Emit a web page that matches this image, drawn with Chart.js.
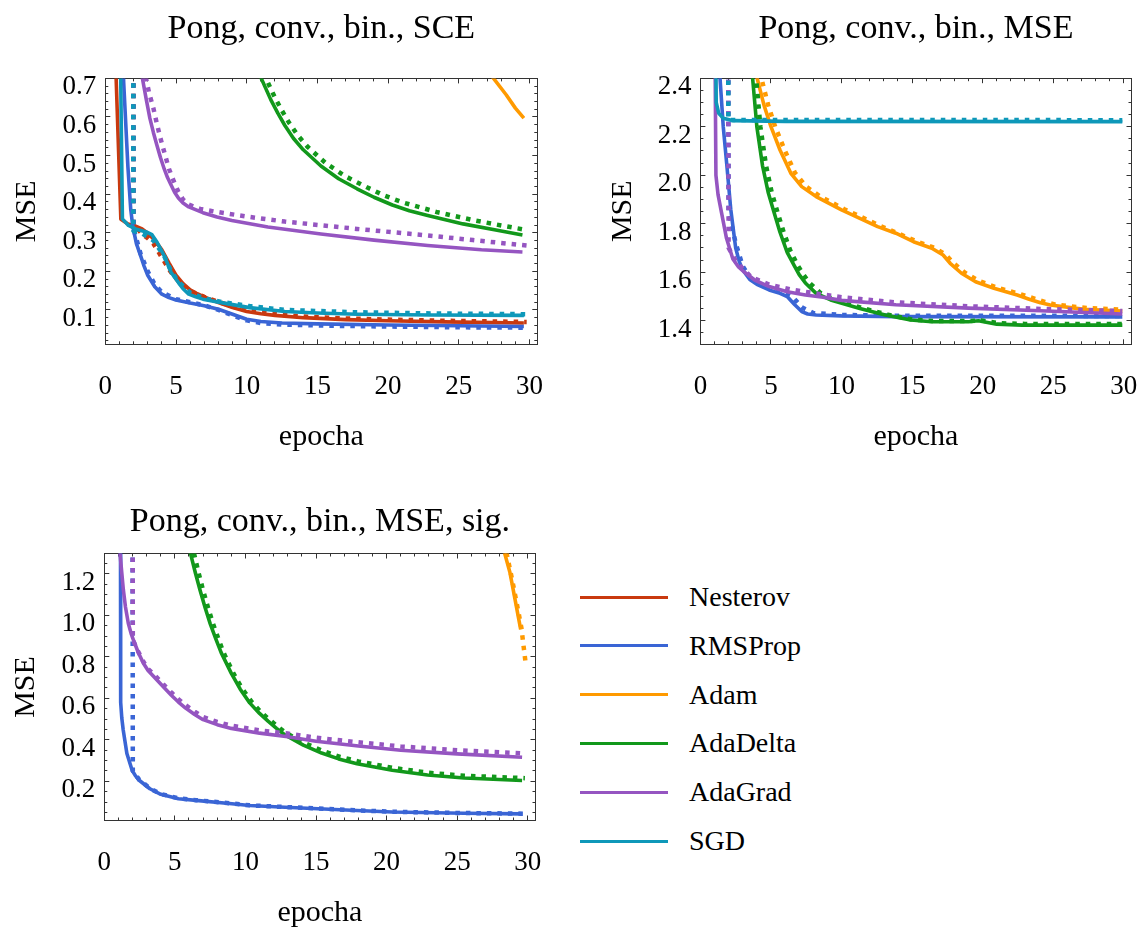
<!DOCTYPE html>
<html>
<head>
<meta charset="utf-8">
<script src="https://cdn.jsdelivr.net/npm/chart.js@4.4.1/dist/chart.umd.min.js"></script>
<style>
  html, body { margin: 0; padding: 0; background: #fff; }
  body { position: relative; width: 1138px; height: 928px; overflow: hidden; font-family: 'Liberation Serif', serif; }
  canvas { position: absolute; }
  .row { position: absolute; left: 580px; height: 40px; display: flex; align-items: center; font-size: 28px; color: #000; white-space: nowrap; }
  .swatch { display: inline-block; width: 88px; height: 3px; margin-right: 21px; }
</style>
</head>
<body>
<canvas id="sce" width="560" height="452" style="left:0;top:0"></canvas>
<canvas id="mse" width="558" height="452" style="left:580px;top:0"></canvas>
<canvas id="sig" width="560" height="458" style="left:0;top:470px"></canvas>
<div id="legend"></div>
<script>
const optimizers = ['Nesterov', 'RMSProp', 'Adam', 'AdaDelta', 'AdaGrad', 'SGD'];
const colors = ['#c9390f', '#3a65d5', '#ff9a00', '#12981b', '#9555c1', '#0e98b9'];

const epochTicks = [0, 5, 10, 15, 20, 25, 30];
const sceTicks = [0.1, 0.2, 0.3, 0.4, 0.5, 0.6, 0.7];
const mseTicks = [1.4, 1.6, 1.8, 2.0, 2.2, 2.4];
const sigTicks = [0.2, 0.4, 0.6, 0.8, 1.0, 1.2];

// [epoka, MSE] - plna cara a teckovana cara pro kazdy optimalizator

// Pong, conv., bin., SCE
const sceNesterov = [[0, 1.54], [1.1, 0.335], [1.6, 0.323], [2.1, 0.318], [2.6, 0.31], [3.0, 0.299], [3.5, 0.281], [4.0, 0.256], [4.5, 0.222], [5.0, 0.19], [5.5, 0.168], [6.0, 0.152], [6.5, 0.142], [7.0, 0.134], [8.0, 0.119], [9.0, 0.106], [10.0, 0.096], [11.0, 0.09], [12.0, 0.086], [14.0, 0.08], [17.0, 0.075], [20.0, 0.072], [24.0, 0.069], [29.6, 0.066]];
const sceNesterovDot = [[1.95, 3.0], [2.0, 0.322], [2.6, 0.297], [3.0, 0.286], [3.4, 0.272], [4.0, 0.236], [4.6, 0.2], [5.2, 0.173], [6.0, 0.149], [7.0, 0.134], [8.0, 0.121], [9.0, 0.109], [10.0, 0.1], [12.0, 0.089], [14.0, 0.083], [17.0, 0.078], [20.0, 0.075], [24.0, 0.072], [29.8, 0.069]];
const sceRmsprop = [[1.0, 1.0], [1.3, 0.69], [1.6, 0.47], [1.8, 0.36], [1.95, 0.315], [2.2, 0.272], [2.5, 0.24], [2.75, 0.213], [3.0, 0.19], [3.5, 0.16], [4.0, 0.141], [4.5, 0.132], [5.0, 0.126], [6.0, 0.118], [7.0, 0.111], [8.0, 0.102], [9.0, 0.089], [10.0, 0.076], [11.0, 0.07], [12.5, 0.066], [15.0, 0.064], [20.0, 0.061], [25.0, 0.059], [29.6, 0.057]];
const sceRmspropDot = [[1.95, 3.0], [2.0, 0.31], [2.5, 0.245], [3.0, 0.2], [3.5, 0.166], [4.0, 0.146], [5.0, 0.128], [6.0, 0.12], [7.0, 0.112], [8.0, 0.1], [9.0, 0.086], [10.0, 0.073], [11.0, 0.066], [12.5, 0.062], [16.0, 0.059], [20.0, 0.057], [25.0, 0.055], [29.8, 0.054]];
const sceAdam = [[26.0, 0.77], [27.35, 0.705], [28.36, 0.657], [29.0, 0.623], [29.6, 0.597]];
const sceAdaDelta = [[9.0, 0.95], [10.0, 0.795], [10.97, 0.705], [11.7, 0.645], [12.2, 0.61], [12.7, 0.578], [13.3, 0.545], [14.0, 0.515], [15.25, 0.473], [16.5, 0.44], [17.8, 0.414], [19.0, 0.392], [20.3, 0.372], [21.5, 0.357], [22.8, 0.345], [25.3, 0.323], [27.9, 0.305], [29.5, 0.294]];
const sceAdaDeltaDot = [[9.5, 0.95], [10.5, 0.8], [11.3, 0.705], [12.0, 0.65], [12.5, 0.616], [13.0, 0.585], [13.6, 0.553], [14.3, 0.523], [15.6, 0.48], [17.0, 0.446], [18.5, 0.418], [19.7, 0.397], [21.0, 0.379], [23.5, 0.353], [26.0, 0.333], [28.0, 0.319], [29.8, 0.307]];
const sceAdaGrad = [[2.0, 0.9], [2.6, 0.705], [2.9, 0.645], [3.15, 0.597], [3.4, 0.56], [3.65, 0.527], [3.9, 0.495], [4.16, 0.466], [4.4, 0.443], [4.66, 0.423], [4.9, 0.405], [5.17, 0.39], [5.5, 0.377], [5.9, 0.367], [6.9, 0.352], [7.9, 0.341], [8.95, 0.332], [11.5, 0.315], [15.25, 0.297], [19.0, 0.281], [22.8, 0.267], [26.6, 0.256], [29.5, 0.25]];
const sceAdaGradDot = [[2.2, 0.92], [2.85, 0.705], [3.1, 0.662], [3.4, 0.623], [3.65, 0.582], [3.9, 0.545], [4.2, 0.505], [4.5, 0.466], [4.85, 0.433], [5.17, 0.406], [5.5, 0.386], [5.9, 0.373], [6.7, 0.362], [7.7, 0.355], [10.2, 0.341], [12.7, 0.329], [17.8, 0.31], [22.8, 0.293], [26.0, 0.281], [29.8, 0.267]];
const sceSgd = [[0, 4.0], [1.21, 0.336], [1.64, 0.319], [2.14, 0.31], [2.9, 0.302], [3.3, 0.295], [3.65, 0.276], [4.16, 0.241], [4.66, 0.197], [5.17, 0.171], [5.5, 0.155], [5.9, 0.141], [6.4, 0.134], [6.9, 0.128], [8.2, 0.119], [10.2, 0.106], [12.7, 0.096], [15.0, 0.092], [17.8, 0.089], [23.0, 0.087], [29.6, 0.086]];
const sceSgdDot = [[1.96, 3.0], [1.98, 0.305], [2.65, 0.297], [3.4, 0.28], [4.16, 0.24], [4.66, 0.2], [5.2, 0.172], [6.0, 0.145], [7.0, 0.13], [8.2, 0.121], [10.2, 0.11], [12.7, 0.1], [17.8, 0.094], [23.0, 0.091], [29.8, 0.089]];

// Pong, conv., bin., MSE
const mseRmsprop = [[1.2, 2.62], [1.39, 2.4], [1.62, 2.2], [1.86, 2.05], [2.15, 1.86], [2.5, 1.7], [2.75, 1.645], [3.0, 1.61], [3.5, 1.57], [4.0, 1.55], [4.87, 1.527], [5.64, 1.513], [6.15, 1.5], [6.67, 1.467], [7.18, 1.438], [7.6, 1.428], [8.2, 1.424], [10.0, 1.42], [14.0, 1.417], [29.9, 1.416]];
const mseRmspropDot = [[1.95, 3.0], [2.0, 1.85], [2.5, 1.72], [3.0, 1.625], [3.5, 1.578], [4.0, 1.556], [5.0, 1.53], [6.0, 1.512], [6.67, 1.49], [7.18, 1.456], [8.0, 1.432], [10.0, 1.424], [14.0, 1.421], [29.9, 1.42]];
const mseAdam = [[3.0, 2.9], [4.0, 2.405], [4.5, 2.29], [5.0, 2.2], [5.64, 2.104], [6.41, 2.008], [7.18, 1.953], [8.2, 1.912], [10.0, 1.857], [11.3, 1.822], [12.56, 1.788], [13.85, 1.761], [15.1, 1.726], [16.4, 1.699], [17.2, 1.671], [17.7, 1.637], [18.5, 1.596], [19.5, 1.561], [20.8, 1.534], [22.45, 1.506], [23.3, 1.489], [24.1, 1.474], [24.8, 1.465], [27.2, 1.447], [29.9, 1.44]];
const mseAdamDot = [[3.3, 2.9], [4.3, 2.405], [4.8, 2.29], [5.3, 2.2], [6.0, 2.1], [6.7, 2.01], [7.5, 1.953], [8.5, 1.912], [10.2, 1.86], [12.8, 1.79], [15.3, 1.728], [16.6, 1.7], [17.4, 1.672], [17.9, 1.64], [18.7, 1.6], [19.7, 1.565], [21.0, 1.537], [22.7, 1.509], [24.4, 1.478], [25.2, 1.466], [27.5, 1.452], [29.9, 1.446]];
const mseAdaDelta = [[3.0, 3.2], [3.7, 2.4], [4.0, 2.2], [4.4, 2.04], [4.8, 1.93], [5.2, 1.85], [5.64, 1.765], [6.15, 1.682], [6.67, 1.625], [7.0, 1.59], [7.44, 1.556], [8.2, 1.513], [9.23, 1.486], [11.3, 1.451], [13.1, 1.424], [14.9, 1.403], [16.4, 1.396], [19.0, 1.396], [19.7, 1.4], [21.0, 1.386], [22.8, 1.382], [29.9, 1.382]];
const mseAdaDeltaDot = [[3.3, 3.2], [3.95, 2.4], [4.25, 2.2], [4.65, 2.04], [5.05, 1.93], [5.45, 1.85], [5.9, 1.765], [6.4, 1.685], [6.9, 1.628], [7.3, 1.59], [7.7, 1.558], [8.5, 1.515], [9.5, 1.487], [11.5, 1.452], [13.3, 1.425], [15.0, 1.405], [16.5, 1.399], [19.0, 1.399], [19.9, 1.401], [21.2, 1.39], [23.0, 1.387], [29.9, 1.387]];
const mseAdaGrad = [[1.0, 2.8], [1.1, 2.0], [1.25, 1.92], [1.5, 1.845], [1.85, 1.74], [2.3, 1.655], [2.7, 1.622], [3.08, 1.602], [3.85, 1.568], [4.87, 1.541], [6.15, 1.52], [7.44, 1.506], [8.7, 1.497], [10.0, 1.484], [13.85, 1.466], [19.0, 1.452], [24.1, 1.441], [29.9, 1.428]];
const mseAdaGradDot = [[1.95, 3.0], [2.0, 1.7], [2.56, 1.642], [3.6, 1.58], [4.87, 1.549], [6.5, 1.528], [8.7, 1.508], [10.0, 1.497], [13.85, 1.476], [19.0, 1.46], [24.1, 1.449], [29.9, 1.44]];
const mseSgd = [[1.0, 3.3], [1.12, 2.3], [1.3, 2.255], [1.62, 2.235], [2.33, 2.225], [6.0, 2.222], [29.9, 2.221]];
const mseSgdDot = [[1.95, 3.3], [1.98, 2.228], [4.0, 2.228], [29.9, 2.227]];

// Pong, conv., bin., MSE, sig.
const sigRmsprop = [[1.12, 3.0], [1.16, 0.58], [1.24, 0.505], [1.34, 0.447], [1.6, 0.334], [1.97, 0.253], [2.2, 0.227], [2.47, 0.205], [3.23, 0.164], [4.0, 0.137], [5.25, 0.116], [6.5, 0.108], [9.04, 0.092], [10.3, 0.083], [12.8, 0.075], [17.9, 0.059], [20.4, 0.052], [25.5, 0.046], [29.6, 0.043]];
const sigRmspropDot = [[1.98, 3.0], [2.02, 0.25], [2.47, 0.208], [3.23, 0.166], [4.0, 0.139], [5.25, 0.118], [6.5, 0.109], [9.04, 0.093], [10.3, 0.084], [12.8, 0.076], [17.9, 0.06], [20.4, 0.053], [25.5, 0.047], [29.8, 0.044]];
const sigAdam = [[27.8, 1.48], [28.36, 1.3], [28.74, 1.206], [29.1, 1.077], [29.5, 0.932]];
const sigAdamDot = [[27.9, 1.5], [28.5, 1.3], [28.9, 1.17], [29.3, 1.03], [29.55, 0.94], [29.85, 0.77]];
const sigAdaDelta = [[5.0, 1.75], [6.1, 1.3], [6.45, 1.205], [6.79, 1.12], [7.15, 1.035], [7.5, 0.96], [7.9, 0.886], [8.28, 0.82], [9.0, 0.72], [9.62, 0.645], [10.3, 0.578], [11.0, 0.527], [11.6, 0.49], [12.2, 0.455], [12.8, 0.423], [14.1, 0.374], [15.4, 0.336], [16.6, 0.308], [17.9, 0.285], [20.4, 0.253], [22.9, 0.23], [25.5, 0.216], [29.6, 0.204]];
const sigAdaDeltaDot = [[5.3, 1.75], [6.35, 1.3], [6.68, 1.205], [7.0, 1.12], [7.35, 1.037], [7.7, 0.96], [8.08, 0.887], [8.45, 0.82], [9.15, 0.72], [9.75, 0.648], [10.45, 0.582], [11.1, 0.533], [11.7, 0.497], [12.3, 0.463], [12.9, 0.432], [14.2, 0.384], [15.5, 0.346], [16.7, 0.318], [18.0, 0.296], [20.5, 0.264], [23.0, 0.241], [25.5, 0.227], [29.8, 0.215]];
const sigAdaGrad = [[1.0, 1.42], [1.11, 1.3], [1.35, 1.123], [1.5, 1.04], [1.7, 0.962], [1.9, 0.912], [2.06, 0.882], [2.4, 0.822], [2.77, 0.769], [3.1, 0.734], [3.5, 0.705], [4.18, 0.656], [4.75, 0.615], [5.25, 0.582], [5.76, 0.553], [6.4, 0.522], [7.0, 0.497], [8.0, 0.473], [9.0, 0.455], [11.0, 0.432], [13.0, 0.415], [15.0, 0.393], [18.0, 0.37], [21.0, 0.35], [25.0, 0.332], [29.6, 0.316]];
const sigAdaGradDot = [[1.98, 3.0], [2.02, 0.882], [2.4, 0.826], [2.77, 0.776], [3.1, 0.742], [3.5, 0.716], [4.18, 0.667], [4.75, 0.628], [5.25, 0.596], [5.76, 0.567], [6.4, 0.536], [7.0, 0.51], [8.0, 0.486], [9.0, 0.468], [11.0, 0.446], [13.0, 0.43], [15.0, 0.41], [18.0, 0.388], [21.0, 0.368], [25.0, 0.35], [29.8, 0.334]];

const frameColor = '#333';
const tickFont = { family: 'Liberation Serif', size: 27, lineHeight: 1.2 };
const labelFont = { family: 'Liberation Serif', size: 30, lineHeight: 1 };
const titleFont = { family: 'Liberation Serif', size: 34, lineHeight: 1 };
const xMax = 30.55;

// pozice vedlejsich tecek na ramu
function steps(from, to, step, skip) {
  const out = [];
  for (let v = from; v <= to + 1e-9; v += step) {
    const r = Math.round(v * 1000) / 1000;
    if (!skip.some(m => Math.abs(m - r) < 1e-6)) out.push(r);
  }
  return out;
}

function lineSet(points, color, dotted) {
  return {
    data: points,
    borderColor: color,
    borderWidth: dotted ? 4.5 : 3.6,
    borderDash: dotted ? [4.5, 6] : [],
    borderCapStyle: 'butt',
    borderJoinStyle: 'round',
    pointRadius: 0,
    tension: 0,
    fill: false,
    clip: 0
  };
}

function axis(position, min, max, ticks, size, opts) {
  const horizontal = position === 'top' || position === 'bottom';
  return Object.assign({
    type: 'linear',
    axis: horizontal ? 'x' : 'y',
    position, min, max,
    afterBuildTicks: s => { s.ticks = ticks.map(v => ({ value: v })); },
    afterFit: s => {
      if (horizontal) s.height = size; else s.width = size;
      // popisky nesmi zmensovat plochu grafu
      s.paddingLeft = s.paddingRight = s.paddingTop = s.paddingBottom = 0;
    },
    grid: { drawOnChartArea: false, tickLength: -5, tickColor: frameColor, tickWidth: 1 },
    border: { color: frameColor, width: 1 },
    ticks: { display: false }
  }, opts);
}

function makeChart(id, g, solid, dotted) {
  const canvas = document.getElementById(id);
  const W = canvas.width, H = canvas.height;
  const datasets = [];
  optimizers.forEach((name, i) => {
    if (solid[i]) datasets.push(lineSet(solid[i], colors[i], false));
    if (dotted[i]) datasets.push(lineSet(dotted[i], colors[i], true));
  });
  // pozdejsi krivky kreslit navrch
  datasets.forEach((d, k) => { d.order = -k; });

  const xMinor = steps(0, 30, 1, epochTicks);
  const yMinor = steps(g.minorFrom, g.yMax, g.minorStep, g.ticks);
  const align = p => Math.round(p - 0.5) + 0.5;

  const minorTicks = {
    id: 'minorTicks',
    beforeDatasetsDraw(chart) {
      const { ctx, chartArea: a, scales } = chart;
      ctx.save();
      ctx.strokeStyle = frameColor;
      ctx.lineWidth = 1;
      ctx.beginPath();
      xMinor.forEach(v => {
        const px = align(scales.x.getPixelForValue(v));
        ctx.moveTo(px, a.bottom); ctx.lineTo(px, a.bottom - 3);
        ctx.moveTo(px, a.top); ctx.lineTo(px, a.top + 3);
      });
      yMinor.forEach(v => {
        const py = align(scales.y.getPixelForValue(v));
        ctx.moveTo(a.left, py); ctx.lineTo(a.left + 3, py);
        ctx.moveTo(a.right, py); ctx.lineTo(a.right - 3, py);
      });
      ctx.stroke();
      ctx.restore();
    }
  };

  return new Chart(canvas, {
    type: 'line',
    data: { datasets },
    options: {
      responsive: false,
      animation: false,
      events: [],
      layout: { padding: 0 },
      plugins: { legend: { display: false }, tooltip: { enabled: false } },
      scales: {
        x: axis('bottom', 0, xMax, epochTicks, H - g.bottom, {
          ticks: { autoSkip: false, maxRotation: 0, padding: 31, font: tickFont, color: '#000', callback: v => String(v) },
          title: { display: true, text: 'epocha', font: labelFont, color: '#000', padding: 0 }
        }),
        x2: axis('top', 0, xMax, epochTicks, g.top, {
          title: { display: true, text: g.title, font: titleFont, color: '#000', padding: { top: g.titlePad, bottom: 0 } }
        }),
        y: axis('left', g.yMin, g.yMax, g.ticks, g.left, {
          ticks: { autoSkip: false, padding: 14, labelOffset: 9, font: tickFont, color: '#000', callback: v => v.toFixed(1) },
          title: { display: true, text: 'MSE', font: labelFont, color: '#000', padding: { top: g.yTitlePad, bottom: 0 } }
        }),
        y2: axis('right', g.yMin, g.yMax, g.ticks, W - g.right, {})
      }
    },
    plugins: [minorTicks]
  });
}

makeChart('sce', {
  title: 'Pong, conv., bin., SCE', titlePad: 12, yTitlePad: 12,
  left: 105.3, right: 537.3, top: 78.4, bottom: 344.3,
  yMin: 0.011, yMax: 0.7, ticks: sceTicks, minorFrom: 0.02, minorStep: 0.02
}, [sceNesterov, sceRmsprop, sceAdam, sceAdaDelta, sceAdaGrad, sceSgd],
   [sceNesterovDot, sceRmspropDot, null, sceAdaDeltaDot, sceAdaGradDot, sceSgdDot]);

makeChart('mse', {
  title: 'Pong, conv., bin., MSE', titlePad: 12, yTitlePad: 28,
  left: 120.4, right: 551.5, top: 78.2, bottom: 344.3,
  yMin: 1.303, yMax: 2.4, ticks: mseTicks, minorFrom: 1.35, minorStep: 0.05
}, [null, mseRmsprop, mseAdam, mseAdaDelta, mseAdaGrad, mseSgd],
   [null, mseRmspropDot, mseAdamDot, mseAdaDeltaDot, mseAdaGradDot, mseSgdDot]);

makeChart('sig', {
  title: 'Pong, conv., bin., MSE, sig.', titlePad: 35, yTitlePad: 11,
  left: 104.3, right: 535.5, top: 83.5, bottom: 350.5,
  yMin: 0.011, yMax: 1.298, ticks: sigTicks, minorFrom: 0.05, minorStep: 0.05
}, [null, sigRmsprop, sigAdam, sigAdaDelta, sigAdaGrad, null],
   [null, sigRmspropDot, sigAdamDot, sigAdaDeltaDot, sigAdaGradDot, null]);

// legenda
const legendBox = document.getElementById('legend');
optimizers.forEach((name, i) => {
  const row = document.createElement('div');
  row.className = 'row';
  row.style.top = (577 + i * 48.8) + 'px';
  row.innerHTML = '<span class="swatch" style="background:' + colors[i] + '"></span><span>' + name + '</span>';
  legendBox.appendChild(row);
});
</script>
</body>
</html>
